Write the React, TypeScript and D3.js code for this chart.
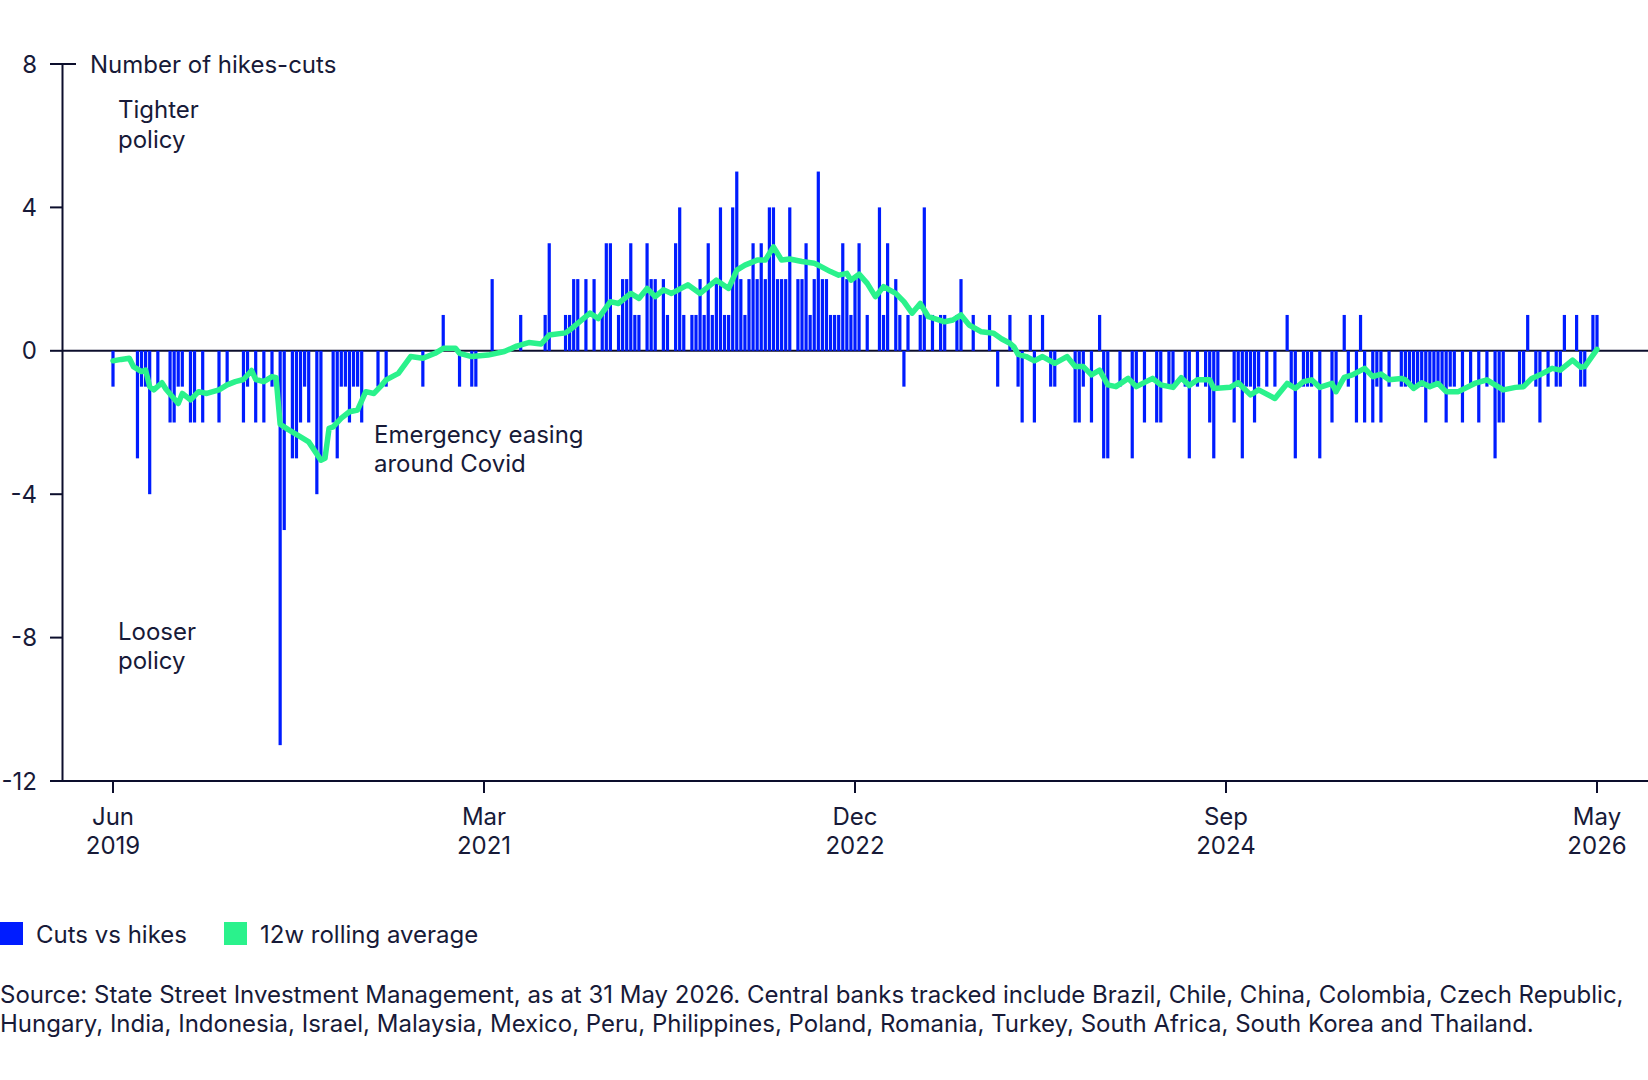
import React, { useEffect, useRef } from "react";
import * as d3 from "d3";

const W = 1648;
const H = 1080;

// weekly net count (hikes minus cuts) across tracked EM central banks, from week of 10 Jun 2019
const cutsVsHikes: number[] = [
  -1, 0, 0, 0, 0, 0, -3, -1, -1, -4, 0, -1, 0, 0, -2, -2, -1, -1, 0, -2,
  -2, 0, -2, 0, 0, 0, -2, 0, -1, 0, 0, 0, -2, -1, 0, -2, 0, -2, 0, -1,
  0, -11, -5, 0, -3, -3, -2, -1, -2, 0, -4, -3, 0, 0, -2, -3, -1, -1, -2, -1,
  -1, -2, 0, 0, 0, -1, 0, -1, 0, 0, 0, 0, 0, 0, 0, 0, -1, 0, 0, 0,
  0, 1, 0, 0, 0, -1, 0, 0, -1, -1, 0, 0, 0, 2, 0, 0, 0, 0, 0, 0,
  1, 0, 0, 0, 0, 0, 1, 3, 0, 0, 0, 1, 1, 2, 2, 0, 2, 0, 2, 0,
  1, 3, 3, 0, 1, 2, 2, 3, 1, 1, 0, 3, 2, 2, 0, 2, 1, 0, 3, 4,
  1, 0, 1, 1, 2, 1, 3, 1, 2, 4, 1, 1, 4, 5, 2, 1, 2, 3, 2, 3,
  2, 4, 4, 2, 2, 2, 4, 0, 2, 2, 3, 1, 2, 5, 2, 2, 1, 1, 1, 3,
  2, 1, 2, 3, 0, 1, 0, 0, 4, 1, 3, 0, 2, 1, -1, 1, 0, 0, 1, 4,
  0, 1, 0, 1, 1, 0, 0, 1, 2, 0, 0, 1, 0, 0, 0, 1, 0, -1, 0, 0,
  1, 0, -1, -2, 0, 1, -2, 0, 1, 0, -1, -1, 0, 0, 0, 0, -2, -2, -1, 0,
  -2, 0, 1, -3, -3, 0, 0, -1, 0, 0, -3, -1, 0, -2, 0, 0, -2, -2, 0, -1,
  -1, 0, 0, -1, -3, 0, -1, 0, -1, -2, -3, -1, 0, 0, 0, -2, -1, -3, -1, -1,
  -2, -1, 0, -1, 0, -1, 0, 0, 1, -1, -3, 0, -1, -1, -1, 0, -3, 0, 0, -2,
  -1, 0, 1, -1, 0, -2, 1, -2, 0, -2, -1, -2, 0, -1, 0, 0, -1, -1, -1, -1,
  -1, -1, -2, -1, -1, -1, -1, -2, -1, -1, 0, -2, 0, -1, 0, -2, 0, -1, 0, -3,
  -2, -2, 0, 0, 0, -1, -1, 1, 0, -1, -2, 0, -1, 0, -1, -1, 1, 0, 0, 1,
  -1, -1, 0, 1, 1,
];

// 12-week rolling average, read at these weeks
const avgWeeks: number[] = [
  0, 2, 4, 5, 7, 8, 9, 10, 12, 13, 16, 17, 19, 21, 23, 26, 28, 30, 32, 34,
  35, 37, 39, 40, 41, 43, 46, 48, 51, 52, 53, 54, 56, 58, 60, 62, 64, 66, 67, 70,
  73, 76, 79, 81, 84, 85, 88, 92, 96, 99, 102, 105, 107, 111, 112, 115, 117, 119, 122, 124,
  127, 129, 131, 133, 135, 137, 141, 144, 148, 151, 153, 155, 158, 160, 162, 164, 166, 169, 172, 173,
  176, 178, 180, 181, 183, 185, 187, 189, 192, 194, 196, 198, 200, 204, 206, 208, 210, 213, 216, 218,
  220, 221, 222, 224, 226, 228, 231, 234, 236, 238, 240, 242, 244, 246, 249, 251, 255, 257, 260, 262,
  264, 266, 269, 270, 274, 276, 279, 281, 285, 288, 290, 292, 294, 296, 299, 300, 302, 304, 307, 309,
  311, 313, 316, 317, 319, 321, 323, 325, 327, 330, 334, 337, 339, 341, 344, 346, 348, 350, 353, 355,
  358, 360, 361, 364,
];
const avgValues: number[] = [
  -0.28, -0.24, -0.21, -0.44, -0.58, -0.54, -1.0, -1.09, -0.89, -1.07, -1.47, -1.19, -1.37, -1.14, -1.19, -1.09, -0.95, -0.86, -0.8, -0.55,
  -0.8, -0.86, -0.72, -0.75, -2.05, -2.2, -2.4, -2.54, -3.05, -3.0, -2.16, -2.12, -1.88, -1.7, -1.65, -1.14, -1.19, -0.95, -0.81, -0.63,
  -0.16, -0.21, -0.07, 0.07, 0.07, -0.07, -0.16, -0.12, -0.02, 0.13, 0.23, 0.19, 0.44, 0.5, 0.58, 0.86, 1.05, 0.9, 1.37, 1.32,
  1.6, 1.46, 1.74, 1.51, 1.7, 1.6, 1.84, 1.6, 1.97, 1.74, 2.25, 2.39, 2.53, 2.53, 2.9, 2.53, 2.56, 2.49, 2.44, 2.39,
  2.21, 2.11, 2.16, 1.97, 2.14, 1.88, 1.51, 1.79, 1.6, 1.37, 1.05, 1.32, 0.95, 0.81, 0.86, 1.0, 0.72, 0.53, 0.49, 0.33,
  0.21, 0.11, -0.1, -0.16, -0.28, -0.16, -0.35, -0.16, -0.44, -0.44, -0.67, -0.54, -0.95, -1.0, -0.77, -1.0, -0.77, -0.95, -1.02, -0.75,
  -0.97, -0.81, -0.81, -1.05, -1.02, -0.89, -1.23, -1.09, -1.33, -0.91, -1.05, -0.86, -0.81, -1.02, -0.91, -1.14, -0.74, -0.67, -0.49, -0.72,
  -0.65, -0.81, -0.77, -0.81, -1.05, -0.89, -1.0, -0.91, -1.14, -1.14, -0.91, -0.81, -0.95, -1.09, -1.02, -1.0, -0.77, -0.67, -0.49, -0.54,
  -0.26, -0.46, -0.44, 0.04,
];

const tickWeeks = [0, 91, 182, 273, 364];
const tickMonths = ["Jun", "Mar", "Dec", "Sep", "May"];
const tickYears = ["2019", "2021", "2022", "2024", "2026"];
const yTicks = [8, 4, 0, -4, -8, -12];

const BLUE = "#001cff";
const GREEN = "#2af28c";
const INK = "#171a38";
const AXIS = "#0c0e2c";
const FONT = "Inter, 'Noto Sans', sans-serif";

export default function App() {
  const ref = useRef<SVGSVGElement | null>(null);

  useEffect(() => {
    const svg = d3.select(ref.current);
    svg.selectAll("*").remove();

    const x = d3.scaleLinear().domain([0, 364]).range([113, 1597]);
    const y = d3.scaleLinear().domain([-12, 8]).range([781, 64]);
    const axisX = 62.5;

    const g = svg.append("g").attr("font-family", FONT).attr("font-size", 24).attr("fill", INK);

    // y axis: vertical line, ticks and labels
    g.append("line")
      .attr("x1", axisX).attr("x2", axisX)
      .attr("y1", y(8)).attr("y2", y(-12))
      .attr("stroke", AXIS).attr("stroke-width", 2);
    g.selectAll(".ytick")
      .data(yTicks)
      .join("line")
      .attr("class", "ytick")
      .attr("x1", 50)
      .attr("x2", (d) => (d === 8 ? 76 : axisX))
      .attr("y1", (d) => y(d)).attr("y2", (d) => y(d))
      .attr("stroke", AXIS).attr("stroke-width", 2);
    g.selectAll(".ylab")
      .data(yTicks)
      .join("text")
      .attr("class", "ylab")
      .attr("x", 37)
      .attr("y", (d) => y(d) + 8.5)
      .attr("text-anchor", "end")
      .text((d) => d);

    // zero line and bottom axis run to the right edge
    g.append("line")
      .attr("x1", axisX).attr("x2", W)
      .attr("y1", y(0)).attr("y2", y(0))
      .attr("stroke", AXIS).attr("stroke-width", 2);
    g.append("line")
      .attr("x1", 50).attr("x2", W)
      .attr("y1", y(-12)).attr("y2", y(-12))
      .attr("stroke", AXIS).attr("stroke-width", 2);

    // x ticks and two-line labels
    const xt = g.selectAll(".xtick").data(tickWeeks).join("g").attr("class", "xtick")
      .attr("transform", (d) => `translate(${x(d)},0)`);
    xt.append("line").attr("y1", y(-12)).attr("y2", y(-12) + 12)
      .attr("stroke", AXIS).attr("stroke-width", 2);
    xt.append("text").attr("y", 825).attr("text-anchor", "middle")
      .text((_, i) => tickMonths[i]);
    xt.append("text").attr("y", 854).attr("text-anchor", "middle")
      .text((_, i) => tickYears[i]);

    // weekly bars
    const bw = 3.2;
    g.append("g")
      .selectAll("rect")
      .data(cutsVsHikes.map((v, i) => ({ v, i })).filter((d) => d.v !== 0))
      .join("rect")
      .attr("x", (d) => x(d.i) - bw / 2)
      .attr("width", bw)
      .attr("y", (d) => y(Math.max(0, d.v)))
      .attr("height", (d) => Math.abs(y(d.v) - y(0)))
      .attr("fill", BLUE);

    // rolling average
    const line = d3.line<number>()
      .x((_, i) => x(avgWeeks[i]))
      .y((d) => y(d));
    g.append("path")
      .attr("d", line(avgValues))
      .attr("fill", "none")
      .attr("stroke", GREEN)
      .attr("stroke-width", 5.5)
      .attr("stroke-linejoin", "round")
      .attr("stroke-linecap", "round");

    // annotations
    const notes: [number, number, string][] = [
      [90, 73, "Number of hikes-cuts"],
      [118, 118, "Tighter"],
      [118, 148, "policy"],
      [118, 640, "Looser"],
      [118, 669, "policy"],
      [374, 443, "Emergency easing"],
      [374, 472, "around Covid"],
    ];
    g.selectAll(".note").data(notes).join("text").attr("class", "note")
      .attr("x", (d) => d[0]).attr("y", (d) => d[1]).text((d) => d[2]);

    // legend
    const legend: [number, string, string][] = [
      [0, BLUE, "Cuts vs hikes"],
      [224, GREEN, "12w rolling average"],
    ];
    const lg = g.selectAll(".leg").data(legend).join("g").attr("class", "leg")
      .attr("transform", (d) => `translate(${d[0]},922)`);
    lg.append("rect").attr("width", 23).attr("height", 23).attr("fill", (d) => d[1]);
    lg.append("text").attr("x", 36).attr("y", 20.5).text((d) => d[2]);

    // source note
    g.append("text").attr("x", 0).attr("y", 1003)
      .text("Source: State Street Investment Management, as at 31 May 2026. Central banks tracked include Brazil, Chile, China, Colombia, Czech Republic,");
    g.append("text").attr("x", 0).attr("y", 1032)
      .text("Hungary, India, Indonesia, Israel, Malaysia, Mexico, Peru, Philippines, Poland, Romania, Turkey, South Africa, South Korea and Thailand.");
  }, []);

  return (
    <div style={{ position: "absolute", left: 0, top: 0 }}>
      <svg ref={ref} width={W} height={H} style={{ display: "block", background: "#fff" }} />
    </div>
  );
}
